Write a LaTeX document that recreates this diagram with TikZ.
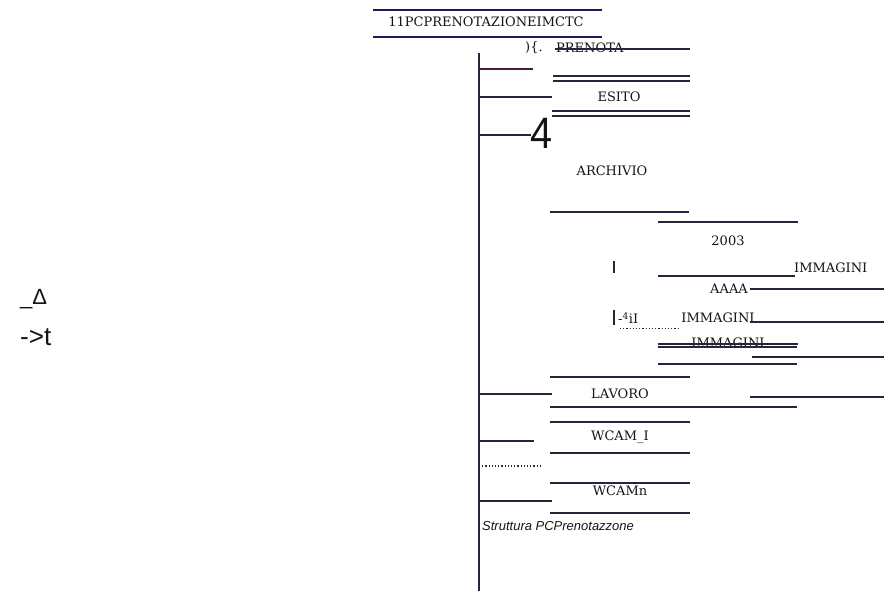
\documentclass[tikz,border=0pt]{standalone}
\usepackage{fontspec}
\setmainfont{DejaVu Serif}
\newfontfamily\sansf{Liberation Sans}
\definecolor{lncol}{HTML}{26263A}
\definecolor{navy}{HTML}{1C1C5C}
\definecolor{txtcol}{HTML}{141414}
\begin{document}
\begin{tikzpicture}[x=1pt,y=-1pt,
  ln/.style={line width=2pt, draw=lncol},
  lnthin/.style={line width=1.2pt, draw=lncol},
  dots/.style={line width=1.2pt, draw=lncol, dotted},
  lbl/.style={font=\fontsize{13}{15}\selectfont, inner sep=0pt, text=txtcol},
  big/.style={font=\sansf\fontsize{26}{28}\selectfont, inner sep=0pt, text=txtcol, anchor=west},
  captxt/.style={font=\sansf\itshape\fontsize{13}{15}\selectfont, inner sep=0pt, text=txtcol, anchor=west}]
\useasboundingbox (0,0) rectangle (884,591);

% title bar
\draw[line width=1.2pt, navy] (373,10) -- (602,10);
\node[lbl] (title) at (486,22) {11PCPRENOTAZIONEIMCTC};
\draw[line width=1.2pt, navy] (373,37) -- (602,37);

% main trunk
\coordinate (top) at (479,53);
\coordinate (bot) at (479,591);
\draw[ln] (top) -- (bot);

% branches from the trunk
\draw[lnthin, draw=lncol!80!purple] (479,69) -- (533,69);
\draw[ln] (479,97) -- (552,97);
\draw[lnthin] (479,135) -- (531,135);
\node[font=\sansf\fontsize{44}{46}\selectfont, inner sep=0pt, text=txtcol, xscale=0.9] (four) at (542,133) {4};
\draw[lnthin] (479,394) -- (552,394);
\draw[ln] (479,441) -- (534,441);
\draw[dots] (479,466) -- (542,466);
\draw[ln] (479,501) -- (552,501);

% PRENOTA
\node[lbl, anchor=west] (paren) at (525,48) {)\{.};
\node[lbl, anchor=west] (prenota) at (556,48) {PRENOTA};
\draw[ln] (555,49) -- (690,49);

% ESITO
\draw[ln] (553,76) -- (690,76);
\draw[ln] (553,81) -- (690,81);
\node[lbl] (esito) at (619,97) {ESITO};
\draw[ln] (552,111) -- (690,111);
\draw[ln] (552,116) -- (690,116);

% ARCHIVIO
\node[lbl] (archivio) at (612,171) {ARCHIVIO};
\draw[ln] (550,212) -- (689,212);

% 2003 and the image folders
\draw[ln] (658,222) -- (798,222);
\node[lbl] (y2003) at (728,241) {2003};
\draw[ln] (614,261) -- (614,273);
\draw[ln] (658,276) -- (795,276);
\node[lbl, anchor=west] (imm1) at (794,268) {IMMAGINI};
\node[lbl] (aaaa) at (729,289) {AAAA};
\draw[lnthin] (750,289) -- (884,289);
\draw[ln] (614,310) -- (614,325);
\node[lbl, anchor=west] (mark) at (618,318) {-\textsuperscript{4}iI};
\draw[dots, line width=0.9pt] (620,328) -- (680,328);
\node[lbl] (imm2) at (718,318) {IMMAGINI};
\draw[lnthin] (750,322) -- (884,322);
\node[lbl] (imm3) at (728,343) {IMMAGINI};
\draw[ln] (658,344) -- (798,344);
\draw[ln] (658,347) -- (797,347);
\draw[lnthin] (752,357) -- (884,357);
\draw[ln] (658,364) -- (797,364);

% LAVORO
\draw[ln] (550,377) -- (690,377);
\node[lbl] (lavoro) at (620,394) {LAVORO};
\draw[lnthin] (750,397) -- (884,397);
\draw[ln] (550,407) -- (690,407);
\draw[lnthin] (661,407) -- (797,407);

% WCAM_I
\draw[ln] (550,422) -- (690,422);
\node[lbl] (wcam1) at (620,437) {WCAM\_I};
\draw[lnthin] (550,453) -- (690,453);

% WCAMn
\draw[lnthin] (550,483) -- (690,483);
\node[lbl] (wcamn) at (620,491) {WCAMn};
\draw[ln] (550,513) -- (690,513);

\node[captxt] (caption) at (482,526) {Struttura PCPrenotazzone};

% loose marks on the left
\node[big, font=\sansf\fontsize{22}{24}\selectfont] (delta) at (20,299) {\_Δ};
\node[big] (arrow) at (20,337) {->t};
\end{tikzpicture}
\end{document}
